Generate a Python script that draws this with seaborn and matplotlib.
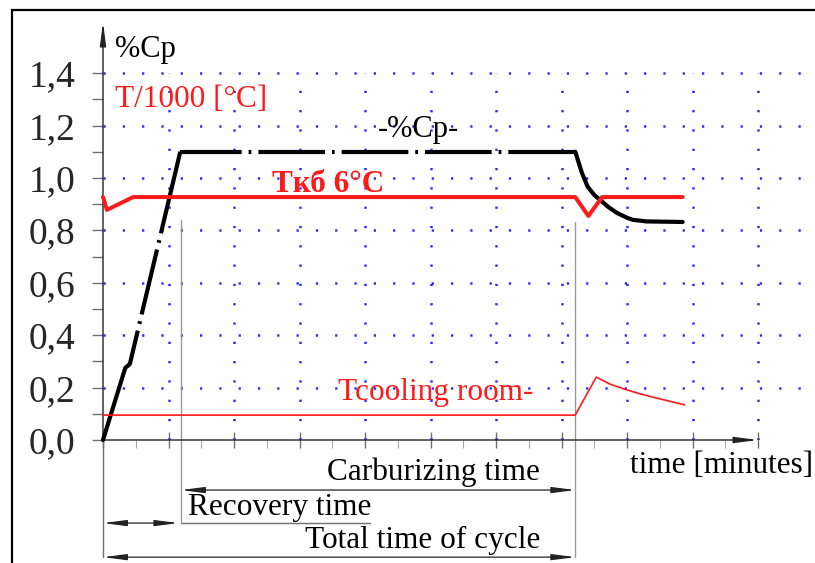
import matplotlib
matplotlib.use("Agg")
import numpy as np
import pandas as pd
import matplotlib.pyplot as plt
import seaborn as sns
from matplotlib.lines import Line2D

# ---------------------------------------------------------------------------
# data (x in major grid divisions, y in %Cp or T/1000)
# ---------------------------------------------------------------------------
cp_x = [0, 0.34, 0.41, 1.18, 7.21, 7.26, 7.31, 7.40, 7.50, 7.59, 7.72,
        7.85, 8.00, 8.09, 8.30, 8.85]
cp_y = [0, 0.275, 0.29, 1.10, 1.10, 1.06, 1.02, 0.966, 0.935, 0.916, 0.888,
        0.866, 0.848, 0.840, 0.834, 0.832]

temp_x = [0, 0.06, 0.46, 7.21, 7.41, 7.62, 8.85]
temp_y = [0.927, 0.878, 0.927, 0.927, 0.855, 0.927, 0.927]

cool_x = [0, 7.21, 7.53, 7.75, 8.0, 8.2, 8.45, 8.88]
cool_y = [0.095, 0.095, 0.240, 0.212, 0.191, 0.176, 0.160, 0.134]

ytick_vals = [0.0, 0.2, 0.4, 0.6, 0.8, 1.0, 1.2, 1.4]
ytick_labels = ["0,0", "0,2", "0,4", "0,6", "0,8", "1,0", "1,2", "1,4"]
xgrid_vals = [1, 2, 3, 4, 5, 6, 7, 8, 9, 10]

t_recovery = 1.19   # end of recovery
t_end = 7.21        # end of carburizing / cycle

# ---------------------------------------------------------------------------
# style
# ---------------------------------------------------------------------------
sns.set_style("white")
plt.rcParams["font.family"] = ["Liberation Serif", "DejaVu Serif"]
plt.rcParams["lines.scale_dashes"] = False

RED = "#ff1a1a"
BLUE = "#2a2aff"
GREY = "#707070"
FS = 22.5

fig = plt.figure(figsize=(8.15, 5.63), dpi=100)
ax = fig.add_axes([103 / 815, 123 / 563, 709 / 815, 418 / 563])
ax.set_xlim(0, 10.824)
ax.set_ylim(0, 1.595)
sns.despine(ax=ax, left=True, bottom=True)

# dotted blue grid
ax.hlines(ytick_vals[1:], 0, 10.824, colors=BLUE, linewidth=1.8,
          linestyles=(0, (1.6, 12.3)), zorder=1)
ax.vlines(xgrid_vals, 0, 1.4, colors=BLUE, linewidth=1.8,
          linestyles=(0, (1.6, 12.3)), zorder=1)

# ---------------------------------------------------------------------------
# curves
# ---------------------------------------------------------------------------
cp = pd.DataFrame({"x": cp_x, "y": cp_y})


def cp_piece(i0, i1, style):
    # dash-dot pattern restarts on every segment, like the CAD original
    sns.lineplot(data=cp.iloc[i0:i1 + 1], x="x", y="y", sort=False,
                 estimator=None, color="black", linewidth=3.0, ax=ax,
                 zorder=4)
    ax.lines[-1].set_linestyle(style)


cp_piece(0, 2, "-")
cp_piece(2, 3, (0, (24.7, 5, 2, 5, 48, 5, 2, 5, 200)))
cp_piece(3, 4, (3.6, (48, 5, 2, 5)))
cp_piece(4, len(cp_x) - 1, "-")

sns.lineplot(x=temp_x, y=temp_y, sort=False, estimator=None, color=RED,
             linewidth=2.9, ax=ax, zorder=5)
sns.lineplot(x=cool_x, y=cool_y, sort=False, estimator=None, color=RED,
             linewidth=1.2, ax=ax, zorder=5)
for ln in ax.lines:
    ln.set_clip_on(False)

# ---------------------------------------------------------------------------
# axes with arrows and ticks
# ---------------------------------------------------------------------------
ax.set_yticks(ytick_vals)
ax.set_yticklabels(ytick_labels, fontsize=27)
ax.set_yticks(np.arange(0.1, 1.4, 0.2), minor=True)
ax.tick_params(axis="y", which="both", direction="out", length=8,
               width=1.0, color=GREY, pad=12, left=True)
ax.set_xticks(range(0, 11))
ax.set_xticks(np.arange(0.5, 10, 1.0), minor=True)
ax.set_xticklabels([])
ax.tick_params(axis="x", which="major", direction="inout", length=12,
               width=1.0, color=GREY, bottom=True)
ax.tick_params(axis="x", which="minor", direction="out", length=6,
               width=0.8, color="#aaaaaa", bottom=True)
ax.set_xlabel("")
ax.set_ylabel("")

arrow_kw = dict(arrowstyle="-|>,head_length=1.4,head_width=0.18",
                color="#222222", lw=1.0, shrinkA=0, shrinkB=0)
ax.annotate("", xy=(0, 1.595), xytext=(0, 0), arrowprops=arrow_kw,
            annotation_clip=False)
ax.annotate("", xy=(10.0, 0), xytext=(0, 0), arrowprops=arrow_kw,
            annotation_clip=False)

# ---------------------------------------------------------------------------
# labels inside the plot
# ---------------------------------------------------------------------------
ax.text(0.18, 1.462, "%Cp", fontsize=FS - 0.5, color="black")
ax.text(0.18, 1.271, "T/1000 [°C]", fontsize=FS, color=RED)
ax.text(4.2, 1.156, "-%Cp-", fontsize=FS - 0.5, color="black")
ax.text(2.58, 0.947, "Tкб 6°C", fontsize=FS, color=RED, fontweight="bold")
ax.text(3.59, 0.153, "Tcooling room-", fontsize=FS, color=RED)

# ---------------------------------------------------------------------------
# time annotations under the axis
# ---------------------------------------------------------------------------
dbl = dict(arrowstyle="<|-|>,head_length=1.4,head_width=0.18",
           color="#222222", lw=0.9, shrinkA=0, shrinkB=0)

ax.text(8.05, -0.126, "time [minutes]", fontsize=FS, color="black")
ax.text(3.42, -0.153, "Carburizing time", fontsize=FS, color="black")
ax.annotate("", xy=(t_end, -0.191), xytext=(t_recovery, -0.191),
            arrowprops=dbl, annotation_clip=False)
ax.text(1.30, -0.286, "Recovery time", fontsize=FS, color="black")
ax.annotate("", xy=(1.15, -0.317), xytext=(0, -0.317),
            arrowprops=dbl, annotation_clip=False)
ax.plot([t_recovery, 4.08], [-0.317, -0.317], color=GREY, lw=1.0,
        clip_on=False)
ax.text(3.08, -0.412, "Total time of cycle", fontsize=FS, color="black")
ax.annotate("", xy=(t_end, -0.447), xytext=(0, -0.447),
            arrowprops=dbl, annotation_clip=False)

# thin vertical guides
ax.plot([0, 0], [0, -0.447], color=GREY, lw=1.0, clip_on=False)
ax.plot([t_recovery, t_recovery], [0.84, -0.317], color="#9a9a9a", lw=1.0,
        clip_on=False, zorder=2)
ax.plot([t_end, t_end], [0.832, -0.447], color="#9a9a9a", lw=1.0,
        clip_on=False, zorder=2)

# outer frame (left and top edges visible)
fig.add_artist(Line2D([12 / 815, 12 / 815], [0, 1 - 10 / 563],
                      transform=fig.transFigure, color="black", lw=1.6))
fig.add_artist(Line2D([12 / 815, 1], [1 - 10 / 563, 1 - 10 / 563],
                      transform=fig.transFigure, color="black", lw=1.6))

fig.savefig("out.png", dpi=100)
